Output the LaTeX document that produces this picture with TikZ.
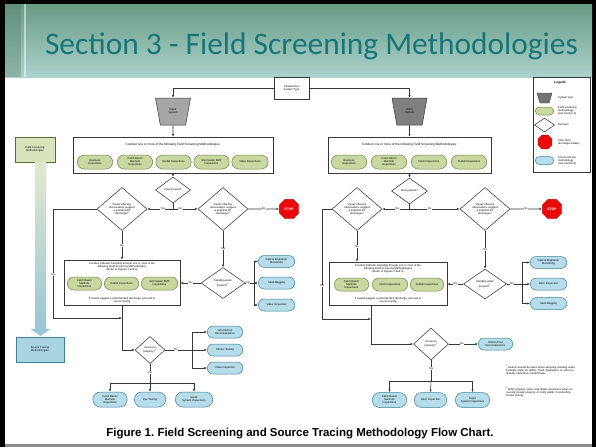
\documentclass[tikz,border=0pt]{standalone}
\usepackage{fontspec}
\setmainfont{Liberation Sans}
\newfontfamily\titlefont{Carlito}
\usetikzlibrary{shapes.geometric,shapes.misc,arrows.meta,calc}
\frenchspacing

\definecolor{linec}{RGB}{55,55,55}
\definecolor{gfill}{RGB}{200,216,160}
\definecolor{gedge}{RGB}{110,135,70}
\definecolor{bfill}{RGB}{183,221,234}
\definecolor{bedge}{RGB}{60,130,155}
\definecolor{stopred}{RGB}{235,10,10}
\definecolor{titleteal}{RGB}{22,118,122}
\definecolor{bandtop}{RGB}{104,156,132}
\definecolor{bandbot}{RGB}{172,210,204}

\newcommand\tinytxt{\fontsize{2.7}{3.1}\selectfont}
\newcommand\smalltxt{\fontsize{3.1}{3.6}\selectfont}

\tikzset{
  ln/.style={draw=linec, line width=0.55pt},
  arr/.style={ln, -{Latex[length=2.6pt,width=2.2pt]}},
  flowbox/.style={rectangle, draw=linec, line width=0.6pt, fill=white, inner sep=0pt},
  gpill/.style={rounded rectangle, draw=gedge, fill=gfill, line width=0.5pt,
    inner sep=0.3pt, font=\tinytxt, align=center, minimum height=13pt},
  bpill/.style={rounded rectangle, draw=bedge, fill=bfill, line width=0.5pt,
    inner sep=0.3pt, font=\tinytxt, align=center, minimum height=12pt},
  dec/.style={diamond, draw=linec, fill=white, line width=0.55pt, inner sep=0pt,
    font=\tinytxt, align=center},
  stopsign/.style={regular polygon, regular polygon sides=8, fill=stopred,
    draw=stopred!80!black, line width=0.4pt, inner sep=0pt, minimum size=21pt,
    text=white, font=\fontsize{3.4}{4}\selectfont\bfseries},
  systype/.style={trapezium, trapezium left angle=73, trapezium right angle=73,
    shape border rotate=180, trapezium stretches=true, draw=linec, line width=0.5pt,
    inner sep=0pt, minimum width=35pt, minimum height=27pt, font=\tinytxt, align=center},
  lbl/.style={fill=white, inner sep=0.4pt, font=\tinytxt},
  sidebox/.style={rectangle, line width=0.6pt, inner sep=0pt, font=\tinytxt, align=center},
}

\begin{document}
\begin{tikzpicture}[x=1pt,y=-1pt]
\useasboundingbox (0,0) rectangle (596,447);

% slide frame and title band
\fill[black] (0,0) rectangle (596,447);
\fill[white] (5,4) rectangle (592,444);
\fill[black!45] (5,444) rectangle (592,447);
\shade[top color=bandtop, bottom color=bandbot] (5,4) rectangle (592,77);
\fill[bandtop!80!black, opacity=0.35] (5,4) rectangle (21,77);
\draw[white, opacity=0.5, line width=1.2pt] (25,4) -- (25,77);
\node[font=\titlefont\fontsize{31.4}{32}\selectfont, text=titleteal] (title) at (311.5,46) {Section 3 - Field Screening Methodologies};

% ---------- top: system type ----------
\node[flowbox, minimum width=35pt, minimum height=22pt, font=\tinytxt, align=center] (cst) at (291.5,88) {Characterize\\System Type};
\node[systype, fill=black!35] (piped) at (173,111.5) {Piped\\System};
\node[systype, fill=black!50] (ditch) at (409.5,111.5) {Ditch\\System};
\draw[arr] (cst.west) -| (piped.north);
\draw[arr] (cst.east) -| (ditch.north);

% ---------- left branch: piped system ----------
\node[flowbox, minimum width=200pt, minimum height=36pt] (lbox) at (173,155) {};
\node[font=\smalltxt] (lhead) at (173,145) {Conduct one or more of the following Field Screening Methodologies:};
\node[gpill, minimum width=36pt, minimum height=14pt] (lp1) at (95,162) {Business\\Inspections};
\node[gpill, minimum width=36pt, minimum height=14pt] (lp2) at (135,162) {Catch Basin/\\Manhole\\Inspections};
\node[gpill, minimum width=36pt, minimum height=14pt] (lp3) at (173.5,162) {Outfall Inspections};
\node[gpill, minimum width=36pt, minimum height=14pt] (lp4) at (211.5,162) {Stormwater BMP\\Inspections};
\node[gpill, minimum width=37pt, minimum height=14pt] (lp5) at (250,162) {Video Inspections};
\draw[arr] (piped.south) -- (lbox.north);

\node[dec, minimum width=35pt, minimum height=26pt] (flowL) at (173,190) {Flow present?};
\draw[arr] (lbox.south) -- (flowL.north);
\coordinate (jL) at (173,209);
\draw[ln] (flowL.south) -- (jL);

\node[dec, minimum width=50pt, minimum height=43pt] (visL1) at (122,209) {Visual/ olfactory\\observations suggest\\a potential IDI\\discharge?};
\node[dec, minimum width=50pt, minimum height=43pt] (visL2) at (223,209) {Visual/ olfactory\\observations suggest\\a potential IDI\\discharge?};
\node[stopsign] (stopL) at (289,209) {STOP};
\draw[arr] (jL) -- node[lbl, pos=0.4]{Yes} (visL1.east);
\draw[arr] (jL) -- node[lbl, pos=0.3]{No} (visL2.west);
\draw[arr] (visL2.east) -- node[lbl]{No} (stopL.west);

\node[flowbox, minimum width=116pt, minimum height=45pt] (ilL) at (122,282.5) {};
\node[font=\tinytxt, align=center, anchor=north, inner sep=0pt] (ilLh) at (122,262.5) {Conduct Indicator Sampling through one or more of the\\following Field Screening Methodologies\\(Refer to Figures 3 and 4)};
\node[gpill, minimum width=35pt] (ilp1) at (84.5,283.5) {Catch Basin/\\Manhole\\Inspections};
\node[gpill, minimum width=35pt] (ilp2) at (121.5,283.5) {Outfall Inspections};
\node[gpill, minimum width=37pt] (ilp3) at (159.5,283.5) {Stormwater BMP\\Inspections};
\node[font=\tinytxt, align=center, anchor=south, inner sep=0pt] (ilLf) at (122,303.5) {If results suggest a potential illicit discharge, proceed to\\source tracing};
\draw[arr] (visL1.south) -- node[lbl]{No} (visL1.south |- ilL.north);

\coordinate (cL1) at (53,209);
\coordinate (cL2) at (53,318);
\coordinate (mL) at (122,318);
\draw[arr] (visL1.west) -- (cL1) -- node[lbl, pos=0.6]{Yes} (cL2) -- (mL);

\node[dec, minimum width=44pt, minimum height=31pt] (standL) at (223,283) {Standing water\\present?\textsuperscript{1}};
\draw[arr] (visL2.south) -- node[lbl]{Yes} (standL.north);
\draw[arr] (standL.west) -- node[lbl]{Yes} (standL.west -| ilL.east);
\node[bpill, minimum width=37pt] (bl1) at (276.5,261.5) {Optical Brightener\\Monitoring};
\node[bpill, minimum width=37pt] (bl2) at (276.5,283) {Sand Bagging};
\node[bpill, minimum width=37pt] (bl3) at (276.5,305) {Video Inspection};
\coordinate (tL) at (254,283);
\draw[ln] (standL.east) -- node[lbl, pos=0.35]{No} (tL);
\draw[arr] (tL) |- (bl1.west);
\draw[arr] (tL) -- (bl2.west);
\draw[arr] (tL) |- (bl3.west);

\node[dec, minimum width=30pt, minimum height=27pt] (accL) at (150,350) {Access to\\property?\textsuperscript{2}};
\draw[arr] (ilL.south -| mL) |- (accL.west);
\node[bpill, minimum width=36pt] (av1) at (225,332) {Vehicle/Foot\\Reconnaissance};
\node[bpill, minimum width=36pt] (av2) at (225,350) {Smoke Testing};
\node[bpill, minimum width=36pt] (av3) at (225,368) {Video Inspection};
\coordinate (tA) at (192,350);
\draw[ln] (accL.east) -- node[lbl, pos=0.4]{No} (tA);
\draw[arr] (tA) |- (av1.west);
\draw[arr] (tA) -- (av2.west);
\draw[arr] (tA) |- (av3.west);
\node[bpill, minimum width=35pt, minimum height=15pt] (ay1) at (110,399.5) {Catch Basin/\\Manhole\\Inspections};
\node[bpill, minimum width=32pt, minimum height=15pt] (ay2) at (150,399.5) {Dye Testing};
\node[bpill, minimum width=38pt, minimum height=15pt] (ay3) at (194,399.5) {Septic\\System Inspections};
\coordinate (hA) at (150,383);
\draw[ln] (accL.south) -- node[lbl, pos=0.45]{Yes} (hA);
\draw[arr] (hA) -| (ay1.north);
\draw[arr] (hA) -- (ay2.north);
\draw[arr] (hA) -| (ay3.north);

% ---------- right branch: ditch system ----------
\node[flowbox, minimum width=163pt, minimum height=36pt] (rbox) at (409.5,155) {};
\node[font=\smalltxt] (rhead) at (409.5,145) {Conduct one or more of the following Field Screening Methodologies:};
\node[gpill, minimum width=36pt, minimum height=14pt] (rp1) at (349,162) {Business\\Inspections};
\node[gpill, minimum width=36pt, minimum height=14pt] (rp2) at (389,162) {Catch Basin/\\Manhole\\Inspections};
\node[gpill, minimum width=36pt, minimum height=14pt] (rp3) at (429,162) {Ditch Inspections};
\node[gpill, minimum width=36pt, minimum height=14pt] (rp4) at (469,162) {Outfall Inspections};
\draw[arr] (ditch.south) -- (rbox.north);

\node[dec, minimum width=36pt, minimum height=26pt] (flowR) at (409.5,191) {Flow present?};
\draw[arr] (rbox.south) -- (flowR.north);
\coordinate (jR) at (409.5,209);
\draw[ln] (flowR.south) -- (jR);

\node[dec, minimum width=50pt, minimum height=43pt] (visR1) at (357,209) {Visual/ olfactory\\observations suggest\\a potential IDI\\discharge?};
\node[dec, minimum width=50pt, minimum height=43pt] (visR2) at (485,209) {Visual/ olfactory\\observations suggest\\a potential IDI\\discharge?};
\node[stopsign] (stopR) at (552,209) {STOP};
\draw[arr] (jR) -- node[lbl, pos=0.45]{Yes} (visR1.east);
\draw[arr] (jR) -- node[lbl, pos=0.4]{No} (visR2.west);
\draw[arr] (visR2.east) -- node[lbl]{No} (stopR.west);

\node[flowbox, minimum width=118pt, minimum height=43pt] (ilR) at (388,283.5) {};
\node[font=\tinytxt, align=center, anchor=north, inner sep=0pt] (ilRh) at (388,264.5) {Conduct Indicator Sampling through one or more of the\\following Field Screening Methodologies\\(Refer to Figures 3 and 4)};
\node[gpill, minimum width=35pt] (irp1) at (351.5,284.5) {Catch Basin/\\Manhole\\Inspections};
\node[gpill, minimum width=36pt] (irp2) at (390,284.5) {Ditch Inspections};
\node[gpill, minimum width=34pt] (irp3) at (427,284.5) {Outfall Inspections};
\node[font=\tinytxt, align=center, anchor=south, inner sep=0pt] (ilRf) at (388,303.5) {If results suggest a potential illicit discharge, proceed to\\source tracing};
\draw[arr] (visR1.south) -- node[lbl]{No} (visR1.south |- ilR.north);

\coordinate (cR1) at (322,209);
\coordinate (cR2) at (322,319);
\coordinate (mR) at (371,319);
\draw[arr] (visR1.west) -- (cR1) -- node[lbl, pos=0.7]{Yes} (cR2) -- (mR);

\node[dec, minimum width=43pt, minimum height=30pt] (standR) at (485,284) {Standing water\\present?\textsuperscript{1}};
\draw[arr] (visR2.south) -- node[lbl]{Yes} (standR.north);
\draw[arr] (standR.west) -- node[lbl]{Yes} (standR.west -| ilR.east);
\node[bpill, minimum width=37pt] (br1) at (548.5,262.5) {Optical Brightener\\Monitoring};
\node[bpill, minimum width=37pt] (br2) at (548.5,284) {Ditch Inspection};
\node[bpill, minimum width=37pt] (br3) at (548.5,303.5) {Sand Bagging};
\coordinate (tR) at (522,284);
\draw[ln] (standR.east) -- node[lbl, pos=0.35]{No} (tR);
\draw[arr] (tR) |- (br1.west);
\draw[arr] (tR) -- (br2.west);
\draw[arr] (tR) |- (br3.west);

\node[dec, minimum width=35pt, minimum height=32pt] (accR) at (431,344) {Access to\\property?\textsuperscript{2}};
\draw[arr] (ilR.south -| mR) |- (accR.west);
\node[bpill, minimum width=35pt] (rv1) at (495.5,344) {Vehicle/Foot\\Reconnaissance};
\draw[arr] (accR.east) -- node[lbl, pos=0.45]{No} (rv1.west);
\node[bpill, minimum width=35pt, minimum height=15pt] (ry1) at (389.5,400) {Catch Basin/\\Manhole\\Inspections};
\node[bpill, minimum width=33pt, minimum height=15pt] (ry2) at (430.5,400) {Ditch Inspection};
\node[bpill, minimum width=35pt, minimum height=15pt] (ry3) at (472.5,400) {Septic\\System Inspections};
\coordinate (hR) at (431,381);
\draw[ln] (accR.south) -- node[lbl, pos=0.4]{Yes} (hR);
\draw[arr] (hR) -| (ry1.north);
\draw[arr] (hR) -- (ry2.north);
\draw[arr] (hR) -| (ry3.north);

% footnotes
\node[font=\tinytxt, align=left, anchor=north west, text width=72pt, inner sep=0pt] (note1) at (506,365) {\textsuperscript{1}Caution should be taken when sampling standing water. Evaluate water for debris, mold, Stagnation, or other potentially hazardous contaminants.};
\node[font=\tinytxt, align=left, anchor=north west, text width=72pt, inner sep=0pt] (note2) at (506,387) {\textsuperscript{2}Notify property owner and obtain permission when accessing private property, or notify public if conducting smoke testing.};

% ---------- legend ----------
\node[flowbox, minimum width=57pt, minimum height=95pt] (legend) at (561.5,124.5) {};
\node[font=\fontsize{3.2}{3.6}\selectfont\bfseries] (legt) at (560,82.5) {Legend};
\filldraw[fill=black!55, draw=linec, line width=0.4pt] (537,93) -- (552,93) -- (549,103) -- (540,103) -- cycle;
\node[gpill, minimum width=19pt, minimum height=8pt] (lg2) at (544.5,111) {};
\node[dec, minimum width=20pt, minimum height=14pt] (lg3) at (544.5,125) {};
\node[stopsign, minimum size=15pt] (lg4) at (545,142) {};
\node[bpill, minimum width=19pt, minimum height=8pt] (lg5) at (544.5,160.5) {};
\node[font=\tinytxt, align=left, anchor=west, inner sep=0pt] (lt1) at (558,98) {System type};
\node[font=\tinytxt, align=left, anchor=west, inner sep=0pt] (lt2) at (558,111) {Field screening\\methodology\\(see Section 3)};
\node[font=\tinytxt, align=left, anchor=west, inner sep=0pt] (lt3) at (558,125) {Decision};
\node[font=\tinytxt, align=left, anchor=west, inner sep=0pt] (lt4) at (558,142) {Stop. Illicit\\discharge unlikely};
\node[font=\tinytxt, align=left, anchor=west, inner sep=0pt] (lt5) at (558,160.5) {Source tracing\\methodology\\(see Section 4)};

% ---------- side bar: field screening to source tracing ----------
\node[sidebox, draw=gedge!80!black, fill=gfill!70!white, minimum width=40pt, minimum height=25pt] (fsm) at (35,149.5) {Field Screening\\Methodologies};
\node[sidebox, draw=bedge, fill=bfill!90!bedge, minimum width=48pt, minimum height=25pt] (stm) at (40,349.5) {Source Tracing\\Methodologies};
\shade[top color=gfill!55!white, bottom color=bfill!75!bedge] (35,162) rectangle (46,329.5);
\fill[bfill!75!bedge] (30.5,329) -- (50.5,329) -- (40.5,336) -- cycle;

% caption
\node[font=\fontsize{11.5}{13}\selectfont\bfseries] (caption) at (300,434) {Figure 1. Field Screening and Source Tracing Methodology Flow Chart.};
\end{tikzpicture}
\end{document}
